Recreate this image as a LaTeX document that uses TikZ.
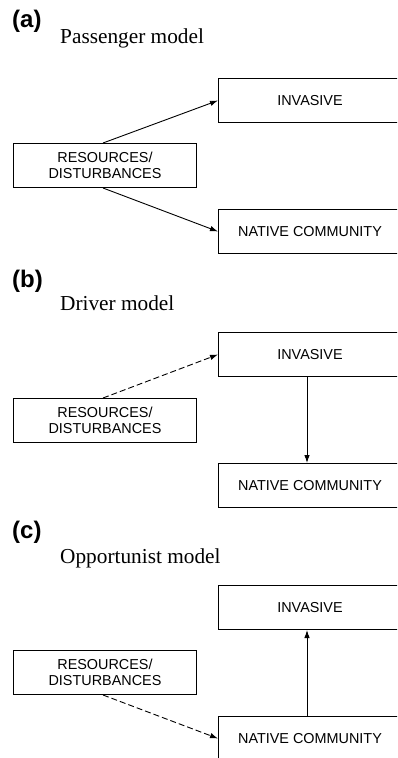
\documentclass[tikz,border=0pt]{standalone}
\usepackage{fontspec}
\setmainfont{Liberation Serif}
\setsansfont{Liberation Sans}
\usetikzlibrary{arrows.meta}
\begin{document}
\begin{tikzpicture}[x=1pt,y=-1pt,
  box/.style={draw,line width=1pt,inner sep=0pt,anchor=north west,align=center,
    font=\sffamily\fontsize{14.4}{16}\selectfont},
  lbox/.style={box,minimum width=183pt,minimum height=44pt},
  rbox/.style={box,minimum width=183pt,minimum height=44pt},
  arr/.style={line width=0.9pt,-{Latex[length=8pt,width=5.5pt]}},
  darr/.style={arr,dash pattern=on 6pt off 3pt},
  plabel/.style={anchor=base west,inner sep=0pt,font=\sffamily\bfseries\fontsize{24}{24}\selectfont},
  title/.style={anchor=base west,inner sep=0pt,font=\rmfamily\fontsize{21.3}{21}\selectfont}]
\useasboundingbox (0,0) rectangle (397,758);
\clip (0,0) rectangle (397,758);
% (a)
\node[plabel] (la) at (12,27) {(a)};
\node[title] (ta) at (60,43) {Passenger model};
\node[rbox] (inva) at (218,78) {INVASIVE};
\node[rbox] (nata) at (218,209) {NATIVE COMMUNITY};
\node[lbox] (resa) at (13,143) {RESOURCES/\\DISTURBANCES};
\draw[arr] ([xshift=-2pt]resa.north) -- (inva.west);
\draw[arr] ([xshift=-2pt]resa.south) -- (nata.west);
% (b)
\node[plabel] (lb) at (12,287) {(b)};
\node[title] (tb) at (60,310) {Driver model};
\node[rbox] (invb) at (218,332) {INVASIVE};
\node[rbox] (natb) at (218,463) {NATIVE COMMUNITY};
\node[lbox] (resb) at (13,398) {RESOURCES/\\DISTURBANCES};
\draw[darr] ([xshift=-2pt]resb.north) -- (invb.west);
\draw[arr] ([xshift=-3pt]invb.south) -- ([xshift=-3pt]natb.north);
% (c)
\node[plabel] (lc) at (12,538) {(c)};
\node[title] (tc) at (60,563) {Opportunist model};
\node[rbox] (invc) at (218,585) {INVASIVE};
\node[rbox] (natc) at (218,716) {NATIVE COMMUNITY};
\node[lbox] (resc) at (13,650) {RESOURCES/\\DISTURBANCES};
\draw[darr] ([xshift=-2pt]resc.south) -- (natc.west);
\draw[arr] ([xshift=-3pt]natc.north) -- ([xshift=-3pt]invc.south);
\end{tikzpicture}
\end{document}
